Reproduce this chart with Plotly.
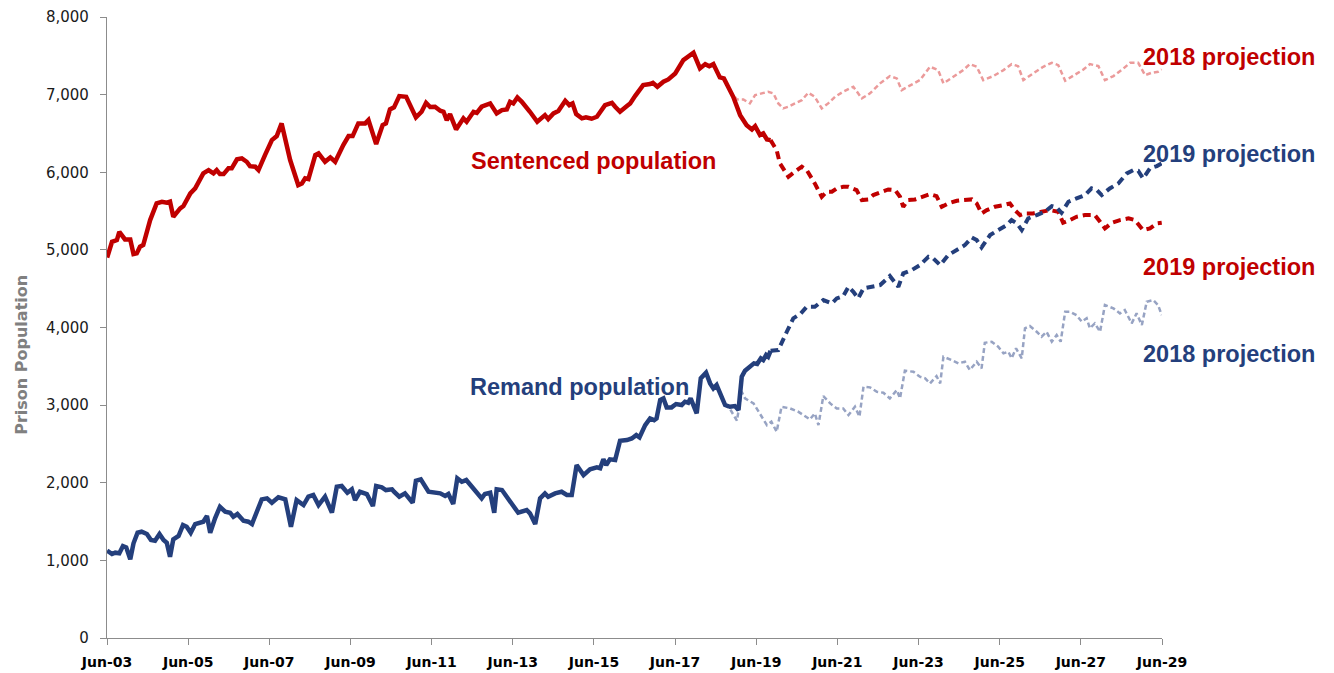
import plotly.graph_objects as go

# ---------------- data (decimal years, prison population) ----------------
sent_t = [2003.42, 2003.54, 2003.66, 2003.72, 2003.86, 2003.99, 2004.07, 2004.15, 2004.23, 2004.31,
          2004.48, 2004.64, 2004.77, 2004.89, 2004.97, 2005.05, 2005.22, 2005.30, 2005.47, 2005.59,
          2005.79, 2005.92, 2006.04, 2006.12, 2006.20, 2006.29, 2006.41, 2006.49, 2006.62, 2006.74,
          2006.86, 2006.94, 2007.07, 2007.15, 2007.31, 2007.48, 2007.60, 2007.72, 2007.93, 2008.13,
          2008.22, 2008.30, 2008.38, 2008.55, 2008.63, 2008.79, 2008.92, 2009.04, 2009.24, 2009.37,
          2009.47, 2009.61, 2009.78, 2009.86, 2010.05, 2010.21, 2010.29, 2010.39, 2010.49, 2010.62,
          2010.79, 2011.03, 2011.17, 2011.28, 2011.38, 2011.50, 2011.63, 2011.71, 2011.79, 2011.87,
          2012.02, 2012.20, 2012.28, 2012.45, 2012.53, 2012.65, 2012.86, 2013.02, 2013.15, 2013.27,
          2013.35, 2013.43, 2013.53, 2013.64, 2013.84, 2014.02, 2014.21, 2014.29, 2014.42, 2014.54,
          2014.71, 2014.81, 2014.89, 2014.98, 2015.12, 2015.22, 2015.36, 2015.49, 2015.69, 2015.86,
          2015.94, 2016.06, 2016.23, 2016.31, 2016.43, 2016.63, 2016.80, 2016.87, 2016.98, 2017.13,
          2017.25, 2017.42, 2017.62, 2017.74, 2017.87, 2018.03, 2018.16, 2018.26, 2018.36, 2018.52,
          2018.62, 2018.85, 2019.02, 2019.18, 2019.31, 2019.39, 2019.51, 2019.59, 2019.68, 2019.77]
sent_v = [4900, 5104, 5126, 5233, 5135, 5135, 4946, 4955, 5040, 5062,
          5384, 5599, 5620, 5607, 5620, 5426, 5534, 5564, 5728, 5792,
          5985, 6028, 5985, 6028, 5976, 5976, 6050, 6050, 6166, 6179,
          6135, 6079, 6071, 6028, 6221, 6414, 6466, 6629, 6157, 5835,
          5856, 5921, 5912, 6221, 6243, 6135, 6191, 6135, 6350, 6466,
          6466, 6629, 6629, 6672, 6363, 6607, 6629, 6810, 6836, 6981,
          6972, 6707, 6779, 6895, 6840, 6844, 6792, 6779, 6672, 6749,
          6552, 6694, 6650, 6779, 6766, 6844, 6887, 6758, 6801, 6810,
          6908, 6887, 6964, 6908, 6779, 6650, 6736, 6685, 6758, 6788,
          6921, 6865, 6887, 6749, 6694, 6707, 6689, 6715, 6865, 6895,
          6844, 6779, 6852, 6887, 6981, 7123, 7136, 7152, 7101, 7166,
          7196, 7273, 7445, 7496, 7539, 7338, 7393, 7367, 7393, 7222,
          7209, 6972, 6736, 6607, 6552, 6594, 6479, 6500, 6423, 6414]

sent19_t = [2019.77, 2019.92, 2020.00, 2020.21, 2020.37, 2020.54, 2020.66, 2020.86, 2021.03, 2021.15,
            2021.28, 2021.40, 2021.56, 2021.69, 2021.89, 2022.02, 2022.18, 2022.30, 2022.51, 2022.67,
            2022.84, 2022.96, 2023.04, 2023.16, 2023.33, 2023.49, 2023.70, 2023.86, 2023.99, 2024.15,
            2024.36, 2024.52, 2024.73, 2024.85, 2024.97, 2025.10, 2025.30, 2025.51, 2025.67, 2025.79,
            2025.92, 2026.04, 2026.24, 2026.45, 2026.66, 2026.86, 2026.98, 2027.15, 2027.31, 2027.52,
            2027.76, 2027.89, 2028.01, 2028.18, 2028.38, 2028.59, 2028.75, 2028.95, 2029.12, 2029.29,
            2029.41]
sent19_v = [6414, 6285, 6114, 5942, 6007, 6071, 6028, 5856, 5684, 5749,
            5749, 5792, 5813, 5813, 5770, 5642, 5650, 5706, 5749, 5779,
            5770, 5684, 5555, 5642, 5650, 5684, 5719, 5693, 5555, 5598,
            5633, 5642, 5650, 5598, 5470, 5512, 5555, 5577, 5598, 5512,
            5448, 5470, 5470, 5491, 5512, 5491, 5349, 5384, 5426, 5448,
            5448, 5362, 5277, 5349, 5384, 5406, 5384, 5255, 5277, 5341,
            5349]

sent18_t = [2018.77, 2018.94, 2019.10, 2019.26, 2019.39, 2019.55, 2019.71, 2019.84, 2019.96, 2020.08,
            2020.21, 2020.37, 2020.54, 2020.70, 2020.86, 2021.03, 2021.19, 2021.36, 2021.56, 2021.81,
            2022.02, 2022.22, 2022.47, 2022.71, 2022.88, 2023.00, 2023.21, 2023.45, 2023.70, 2023.90,
            2024.03, 2024.27, 2024.52, 2024.68, 2024.85, 2025.01, 2025.26, 2025.51, 2025.71, 2025.87,
            2026.00, 2026.24, 2026.49, 2026.70, 2026.86, 2027.03, 2027.23, 2027.48, 2027.64, 2027.85,
            2028.01, 2028.22, 2028.46, 2028.63, 2028.83, 2029.00, 2029.16, 2029.32, 2029.41]
sent18_v = [7050, 6938, 6938, 6887, 6994, 7016, 7037, 7016, 6887, 6823,
            6844, 6887, 6929, 7024, 6972, 6823, 6887, 6972, 7037, 7101,
            6951, 7016, 7145, 7239, 7209, 7058, 7123, 7187, 7359, 7316,
            7145, 7230, 7316, 7393, 7359, 7187, 7239, 7316, 7393, 7367,
            7187, 7273, 7359, 7410, 7380, 7179, 7239, 7324, 7393, 7367,
            7187, 7239, 7334, 7410, 7410, 7251, 7281, 7294, 7324]

rem_t = [2003.42, 2003.54, 2003.62, 2003.72, 2003.81, 2003.89, 2003.99, 2004.07, 2004.17, 2004.27,
         2004.40, 2004.50, 2004.60, 2004.71, 2004.81, 2004.89, 2004.97, 2005.05, 2005.18, 2005.29,
         2005.38, 2005.48, 2005.59, 2005.69, 2005.79, 2005.88, 2005.96, 2006.08, 2006.20, 2006.33,
         2006.45, 2006.53, 2006.63, 2006.78, 2006.90, 2006.99, 2007.11, 2007.23, 2007.36, 2007.48,
         2007.64, 2007.81, 2007.95, 2008.09, 2008.26, 2008.38, 2008.50, 2008.63, 2008.79, 2008.96,
         2009.08, 2009.20, 2009.34, 2009.45, 2009.53, 2009.65, 2009.82, 2009.97, 2010.05, 2010.19,
         2010.29, 2010.44, 2010.49, 2010.62, 2010.76, 2010.95, 2011.03, 2011.15, 2011.34, 2011.46,
         2011.63, 2011.75, 2011.83, 2011.95, 2012.05, 2012.16, 2012.27, 2012.41, 2012.53, 2012.65,
         2012.73, 2012.86, 2012.96, 2013.02, 2013.15, 2013.35, 2013.55, 2013.76, 2013.84, 2013.97,
         2014.09, 2014.21, 2014.29, 2014.46, 2014.62, 2014.75, 2014.87, 2014.99, 2015.16, 2015.32,
         2015.49, 2015.57, 2015.65, 2015.72, 2015.81, 2015.94, 2016.06, 2016.23, 2016.35, 2016.46,
         2016.54, 2016.68, 2016.80, 2016.90, 2016.96, 2017.05, 2017.13, 2017.21, 2017.33, 2017.44,
         2017.58, 2017.66, 2017.74, 2017.80, 2017.87, 2017.95, 2018.05, 2018.18, 2018.28, 2018.36,
         2018.44, 2018.57, 2018.65, 2018.77, 2018.89, 2018.98, 2019.06, 2019.14, 2019.26, 2019.36,
         2019.44, 2019.53, 2019.59, 2019.66, 2019.71, 2019.77]
rem_v = [1125, 1082, 1099, 1091, 1185, 1168, 1014, 1220, 1356, 1369,
         1340, 1262, 1253, 1340, 1262, 1228, 1047, 1271, 1314, 1455,
         1434, 1356, 1468, 1485, 1498, 1571, 1356, 1542, 1691, 1627,
         1614, 1562, 1597, 1511, 1498, 1468, 1614, 1786, 1799, 1743,
         1812, 1786, 1434, 1777, 1713, 1820, 1842, 1713, 1820, 1614,
         1949, 1958, 1871, 1915, 1777, 1884, 1855, 1700, 1958, 1941,
         1906, 1915, 1884, 1820, 1863, 1743, 2026, 2044, 1884, 1871,
         1863, 1829, 1855, 1726, 2057, 2013, 2035, 1949, 1871, 1799,
         1855, 1871, 1614, 1915, 1906, 1756, 1614, 1649, 1606, 1468,
         1799, 1863, 1820, 1863, 1884, 1842, 1842, 2228, 2099, 2173,
         2198, 2186, 2301, 2228, 2301, 2292, 2541, 2550, 2571, 2614,
         2584, 2743, 2829, 2807, 2829, 3065, 3087, 2971, 2971, 3014,
         3001, 3044, 3031, 3087, 3001, 2894, 3345, 3417, 3280, 3216,
         3259, 3108, 3001, 2979, 2988, 2937, 3366, 3443, 3503, 3538,
         3529, 3603, 3581, 3645, 3623, 3700]

rem19_t = [2019.77, 2019.96, 2020.17, 2020.33, 2020.50, 2020.66, 2020.86, 2021.07, 2021.28, 2021.40,
           2021.56, 2021.69, 2021.81, 2021.93, 2022.06, 2022.22, 2022.47, 2022.71, 2022.92, 2023.04,
           2023.25, 2023.45, 2023.66, 2023.78, 2023.95, 2024.15, 2024.36, 2024.56, 2024.73, 2024.85,
           2024.97, 2025.18, 2025.38, 2025.59, 2025.71, 2025.84, 2025.96, 2026.12, 2026.33, 2026.53,
           2026.70, 2026.82, 2026.94, 2027.11, 2027.31, 2027.52, 2027.68, 2027.81, 2027.93, 2028.13,
           2028.34, 2028.55, 2028.71, 2028.83, 2028.95, 2029.12, 2029.29, 2029.41]
rem19_v = [3700, 3709, 3945, 4118, 4173, 4267, 4267, 4353, 4311, 4375,
           4405, 4525, 4460, 4375, 4504, 4525, 4547, 4663, 4525, 4697,
           4740, 4804, 4911, 4890, 4804, 4933, 4997, 5062, 5161, 5126,
           5032, 5191, 5255, 5319, 5384, 5341, 5255, 5406, 5448, 5491,
           5564, 5547, 5478, 5620, 5663, 5706, 5792, 5770, 5706, 5792,
           5856, 5985, 6028, 6019, 5921, 6050, 6079, 6114]

rem18_t = [2018.57, 2018.65, 2018.77, 2018.94, 2019.06, 2019.14, 2019.35, 2019.51, 2019.68, 2019.79,
           2019.92, 2020.04, 2020.25, 2020.45, 2020.62, 2020.74, 2020.86, 2020.95, 2021.07, 2021.24,
           2021.40, 2021.56, 2021.69, 2021.85, 2021.96, 2022.06, 2022.22, 2022.39, 2022.55, 2022.71,
           2022.88, 2022.96, 2023.08, 2023.29, 2023.45, 2023.58, 2023.70, 2023.86, 2023.95, 2024.03,
           2024.23, 2024.40, 2024.56, 2024.68, 2024.85, 2024.97, 2025.05, 2025.22, 2025.38, 2025.51,
           2025.63, 2025.71, 2025.82, 2025.96, 2026.04, 2026.16, 2026.33, 2026.45, 2026.57, 2026.70,
           2026.82, 2026.92, 2027.03, 2027.15, 2027.31, 2027.44, 2027.56, 2027.64, 2027.76, 2027.89,
           2028.01, 2028.22, 2028.38, 2028.50, 2028.67, 2028.79, 2028.92, 2029.04, 2029.20, 2029.32,
           2029.41]
rem18_v = [3108, 3001, 2950, 2800, 3172, 3087, 3022, 2894, 2743, 2786,
           2657, 2979, 2958, 2915, 2851, 2816, 2894, 2743, 3117, 3022,
           2958, 2958, 2872, 2979, 2851, 3237, 3229, 3172, 3160, 3087,
           3194, 3087, 3443, 3430, 3366, 3345, 3280, 3374, 3280, 3623,
           3581, 3538, 3559, 3452, 3559, 3473, 3803, 3817, 3752, 3667,
           3688, 3603, 3731, 3603, 3989, 4019, 3945, 3881, 3945, 3817,
           3903, 3817, 4203, 4203, 4160, 4074, 4118, 3989, 4053, 3945,
           4289, 4246, 4182, 4225, 4053, 4182, 4031, 4332, 4353, 4289,
           4160]

tick_labels = ["Jun-03", "Jun-05", "Jun-07", "Jun-09", "Jun-11", "Jun-13", "Jun-15",
               "Jun-17", "Jun-19", "Jun-21", "Jun-23", "Jun-25", "Jun-27", "Jun-29"]
tick_years = [2003, 2005, 2007, 2009, 2011, 2013, 2015, 2017, 2019, 2021, 2023, 2025, 2027, 2029]
y_ticks = [0, 1000, 2000, 3000, 4000, 5000, 6000, 7000, 8000]

# ---------------- styles ----------------
RED = "#C00000"
NAVY = "#243F7C"
LIGHT_RED = "#EB9A9A"
LIGHT_BLUE = "#97A3C3"

fig = go.Figure()
fig.add_trace(go.Scatter(x=sent18_t, y=sent18_v, mode="lines",
                         line=dict(color=LIGHT_RED, width=2.5, dash="5px,3px")))
fig.add_trace(go.Scatter(x=rem18_t, y=rem18_v, mode="lines",
                         line=dict(color=LIGHT_BLUE, width=2.5, dash="5px,3px")))
fig.add_trace(go.Scatter(x=sent19_t, y=sent19_v, mode="lines",
                         line=dict(color=RED, width=4, dash="8px,5px")))
fig.add_trace(go.Scatter(x=rem19_t, y=rem19_v, mode="lines",
                         line=dict(color=NAVY, width=4, dash="8px,5px")))
fig.add_trace(go.Scatter(x=sent_t, y=sent_v, mode="lines",
                         line=dict(color=RED, width=4.5)))
fig.add_trace(go.Scatter(x=rem_t, y=rem_v, mode="lines",
                         line=dict(color=NAVY, width=4.5)))

x0 = 2003 + 5 / 12
tick_pos = [y + 5 / 12 for y in tick_years]

# page body has an 8px margin: plot area ends up at x 107..1162, y 17..638
fig.update_layout(
    width=1334, height=673,
    margin=dict(l=99, r=180, t=9, b=43),
    paper_bgcolor="white", plot_bgcolor="white",
    showlegend=False,
    xaxis=dict(range=[x0, 2029 + 5 / 12], tickvals=tick_pos, ticktext=tick_labels,
               automargin=False,
               showgrid=False, zeroline=False, showline=True, linecolor="#8C8C8C", linewidth=1.3,
               ticks="outside", ticklen=6, tickcolor="#8C8C8C", tickwidth=1.3,
               ticklabelstandoff=5,
               tickfont=dict(family="DejaVu Sans", size=14, color="#000000", weight="bold")),
    yaxis=dict(range=[0, 8000], tickvals=y_ticks, tickformat=",d",
               automargin=False,
               showgrid=False, zeroline=False, showline=True, linecolor="#8C8C8C", linewidth=1.3,
               ticks="outside", ticklen=6, tickcolor="#8C8C8C", tickwidth=1.3,
               ticklabelstandoff=8,
               tickfont=dict(family="DejaVu Sans", size=15, color="#1A1A1A")),
)

label_font = dict(family="Liberation Sans, Arial", size=23.5)
annots = [
    ("Sentenced population", 0.3441, 0.7681, "left", RED),
    ("Remand population", 0.3431, 0.4042, "left", NAVY),
    ("2018 projection", 1.1461, 0.9356, "right", RED),
    ("2019 projection", 1.1461, 0.7794, "right", NAVY),
    ("2019 projection", 1.1461, 0.5974, "right", RED),
    ("2018 projection", 1.1461, 0.4573, "right", NAVY),
]
for text, xp, yp, anchor, col in annots:
    fig.add_annotation(text="<b>" + text + "</b>", xref="paper", yref="paper", x=xp, y=yp,
                       xanchor=anchor, yanchor="middle", showarrow=False,
                       font=dict(color=col, **label_font), borderpad=0)

fig.add_annotation(text="<b>Prison Population</b>", xref="paper", yref="paper",
                   x=-0.0806, y=0.456, xanchor="center", yanchor="middle", textangle=-90,
                   showarrow=False, borderpad=0,
                   font=dict(family="DejaVu Sans", size=16, color="#808080"))

fig.write_html("out.html")
